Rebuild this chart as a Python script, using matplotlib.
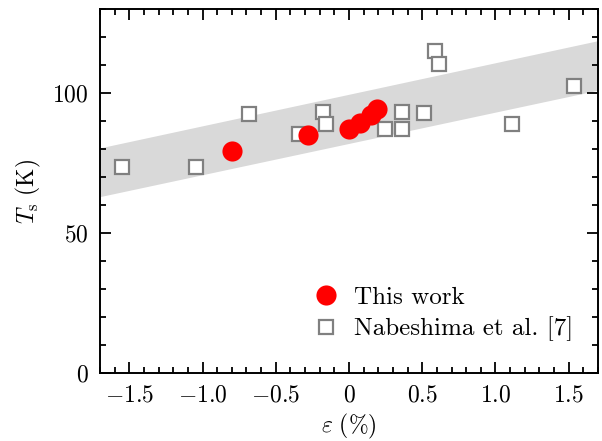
import numpy as np
import matplotlib
matplotlib.use("Agg")
import matplotlib.pyplot as plt

plt.rcParams['font.family'] = 'serif'
plt.rcParams['font.serif'] = ['cmr10']
plt.rcParams['mathtext.fontset'] = 'cm'
plt.rcParams['axes.formatter.use_mathtext'] = True
plt.rcParams['font.size'] = 17

# This work
eps_this = [-0.80, -0.28, 0.0, 0.073, 0.148, 0.19]
ts_this = [79.3, 85.0, 87.3, 89.4, 92.3, 94.3]

# Nabeshima et al. [7]
eps_nab = [-1.547, -1.045, -0.68, -0.34, -0.177, -0.16, 0.248, 0.36, 0.36,
           0.514, 0.586, 0.614, 1.111, 1.537]
ts_nab = [73.5, 73.7, 92.5, 85.4, 93.1, 88.9, 87.3, 93.3, 87.3,
          92.7, 115.1, 110.3, 88.8, 102.6]

# shaded band (end points)
band_x = [-1.7, 1.7]
band_lo = [63.0, 101.0]
band_hi = [80.4, 118.7]

fig = plt.figure(figsize=(6.02, 4.41), dpi=100)
ax = fig.add_axes([100/602, 1 - 373/441, 498/602, 364/441])

ax.fill_between(band_x, band_lo, band_hi, color='#d9d9d9', lw=0, zorder=1)
ax.plot(eps_this, ts_this, 'o', color='red', ms=14.5, mec='none',
        label='This work', zorder=3)
ax.plot(eps_nab, ts_nab, 's', mfc='white', mec='#808080', mew=1.6, ms=9.5,
        label='Nabeshima et al. [7]', zorder=2)

ax.set_xlim(-1.7, 1.7)
ax.set_ylim(0, 130)
ax.set_xticks([-1.5, -1.0, -0.5, 0, 0.5, 1.0, 1.5])
ax.set_xticklabels(['$-1.5$', '$-1.0$', '$-0.5$', '$0$', '$0.5$', '$1.0$', '$1.5$'])
ax.set_xticks(np.arange(-1.7, 1.71, 0.1), minor=True)
ax.set_yticks([0, 50, 100])
ax.set_yticklabels(['$0$', '$50$', '$100$'])
ax.set_yticks(np.arange(0, 131, 10), minor=True)
ax.tick_params(which='both', direction='in', top=True, right=True, width=1.3)
ax.tick_params(which='major', length=8, pad=8)
ax.tick_params(which='minor', length=4.5)
for s in ax.spines.values():
    s.set_linewidth(1.4)

ax.set_xlabel(r'$\varepsilon\ (\%)$', labelpad=4)
ax.set_ylabel(r'$T_{\rm s}\ (\mathrm{K})$', labelpad=7)

ax.legend(loc='lower right', bbox_to_anchor=(0.97, 0.06), frameon=False,
          handlelength=1.2, handletextpad=0.5, borderaxespad=0,
          labelspacing=0.3, fontsize=18)

fig.savefig('out.png', dpi=100)
